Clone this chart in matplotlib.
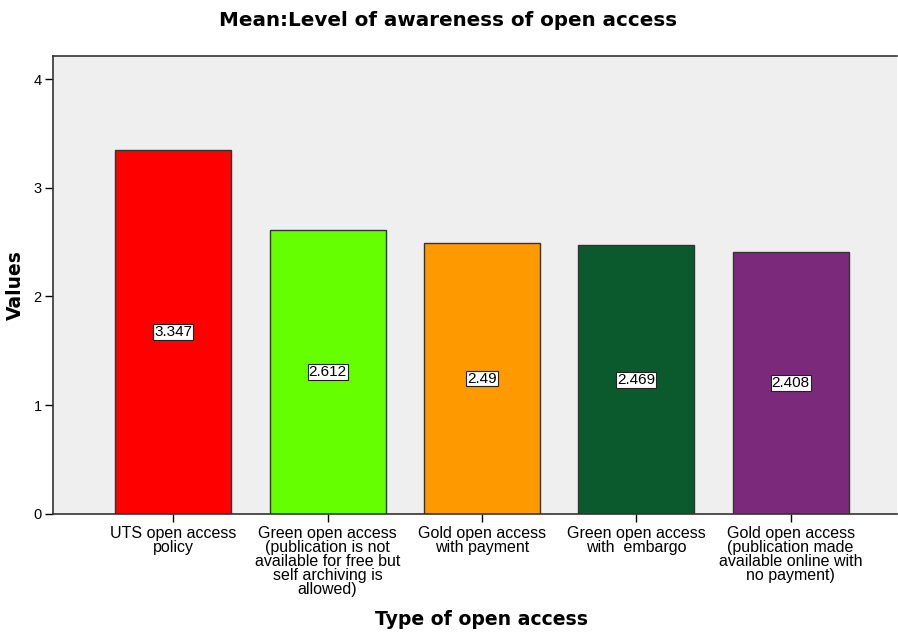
import matplotlib.pyplot as plt
import numpy as np

categories = [
    "UTS open access\npolicy",
    "Green open access\n(publication is not\navailable for free but\nself archiving is\nallowed)",
    "Gold open access\nwith payment",
    "Green open access\nwith  embargo",
    "Gold open access\n(publication made\navailable online with\nno payment)",
]
means = [3.347, 2.612, 2.49, 2.469, 2.408]
value_labels = ["3.347", "2.612", "2.49", "2.469", "2.408"]
colors = ["#FF0000", "#66FF00", "#FF9900", "#0B5A2E", "#7B2A7B"]

plt.rcParams['font.family'] = ['Liberation Sans', 'DejaVu Sans']

fig = plt.figure(figsize=(8.98, 6.32), dpi=100)
ax = fig.add_axes([0.059, 0.187, 0.940, 0.724])
ax.set_facecolor("#EFEFEF")

x = np.arange(len(means))
ax.bar(x, means, width=0.753, color=colors, edgecolor="#333333", linewidth=1.0, zorder=2)

for xi, v, lab in zip(x, means, value_labels):
    ax.text(xi, v / 2, lab, ha="center", va="center", fontsize=11, zorder=3,
            bbox=dict(boxstyle="square,pad=0.06", facecolor="white", edgecolor="#222222", linewidth=0.8))

ax.set_xlim(-0.78, 4.69)
ax.set_ylim(0, 4.21)
ax.set_yticks([0, 1, 2, 3, 4])
ax.set_xticks(x)
ax.set_xticklabels(categories, fontsize=11.5, linespacing=0.92)
ax.tick_params(axis="y", labelsize=10.5, length=6, width=1, direction="out", pad=2)
ax.tick_params(axis="x", length=6, width=1, direction="out", pad=3)

for s in ["left", "bottom", "top"]:
    ax.spines[s].set_color("#333333")
    ax.spines[s].set_linewidth(1.2)
ax.spines["right"].set_visible(False)

# bold headings in a wider face
ax.set_xlabel("Type of open access", fontsize=13.6, fontweight="bold", family="DejaVu Sans")
ax.xaxis.set_label_coords(0.508, -0.211)
ax.set_ylabel("Values", fontsize=13.5, fontweight="bold", labelpad=6, family="DejaVu Sans")
fig.suptitle("Mean:Level of awareness of open access", fontsize=14.3, fontweight="bold",
             x=0.499, y=0.983, family="DejaVu Sans")

fig.savefig("out.png", dpi=100)
